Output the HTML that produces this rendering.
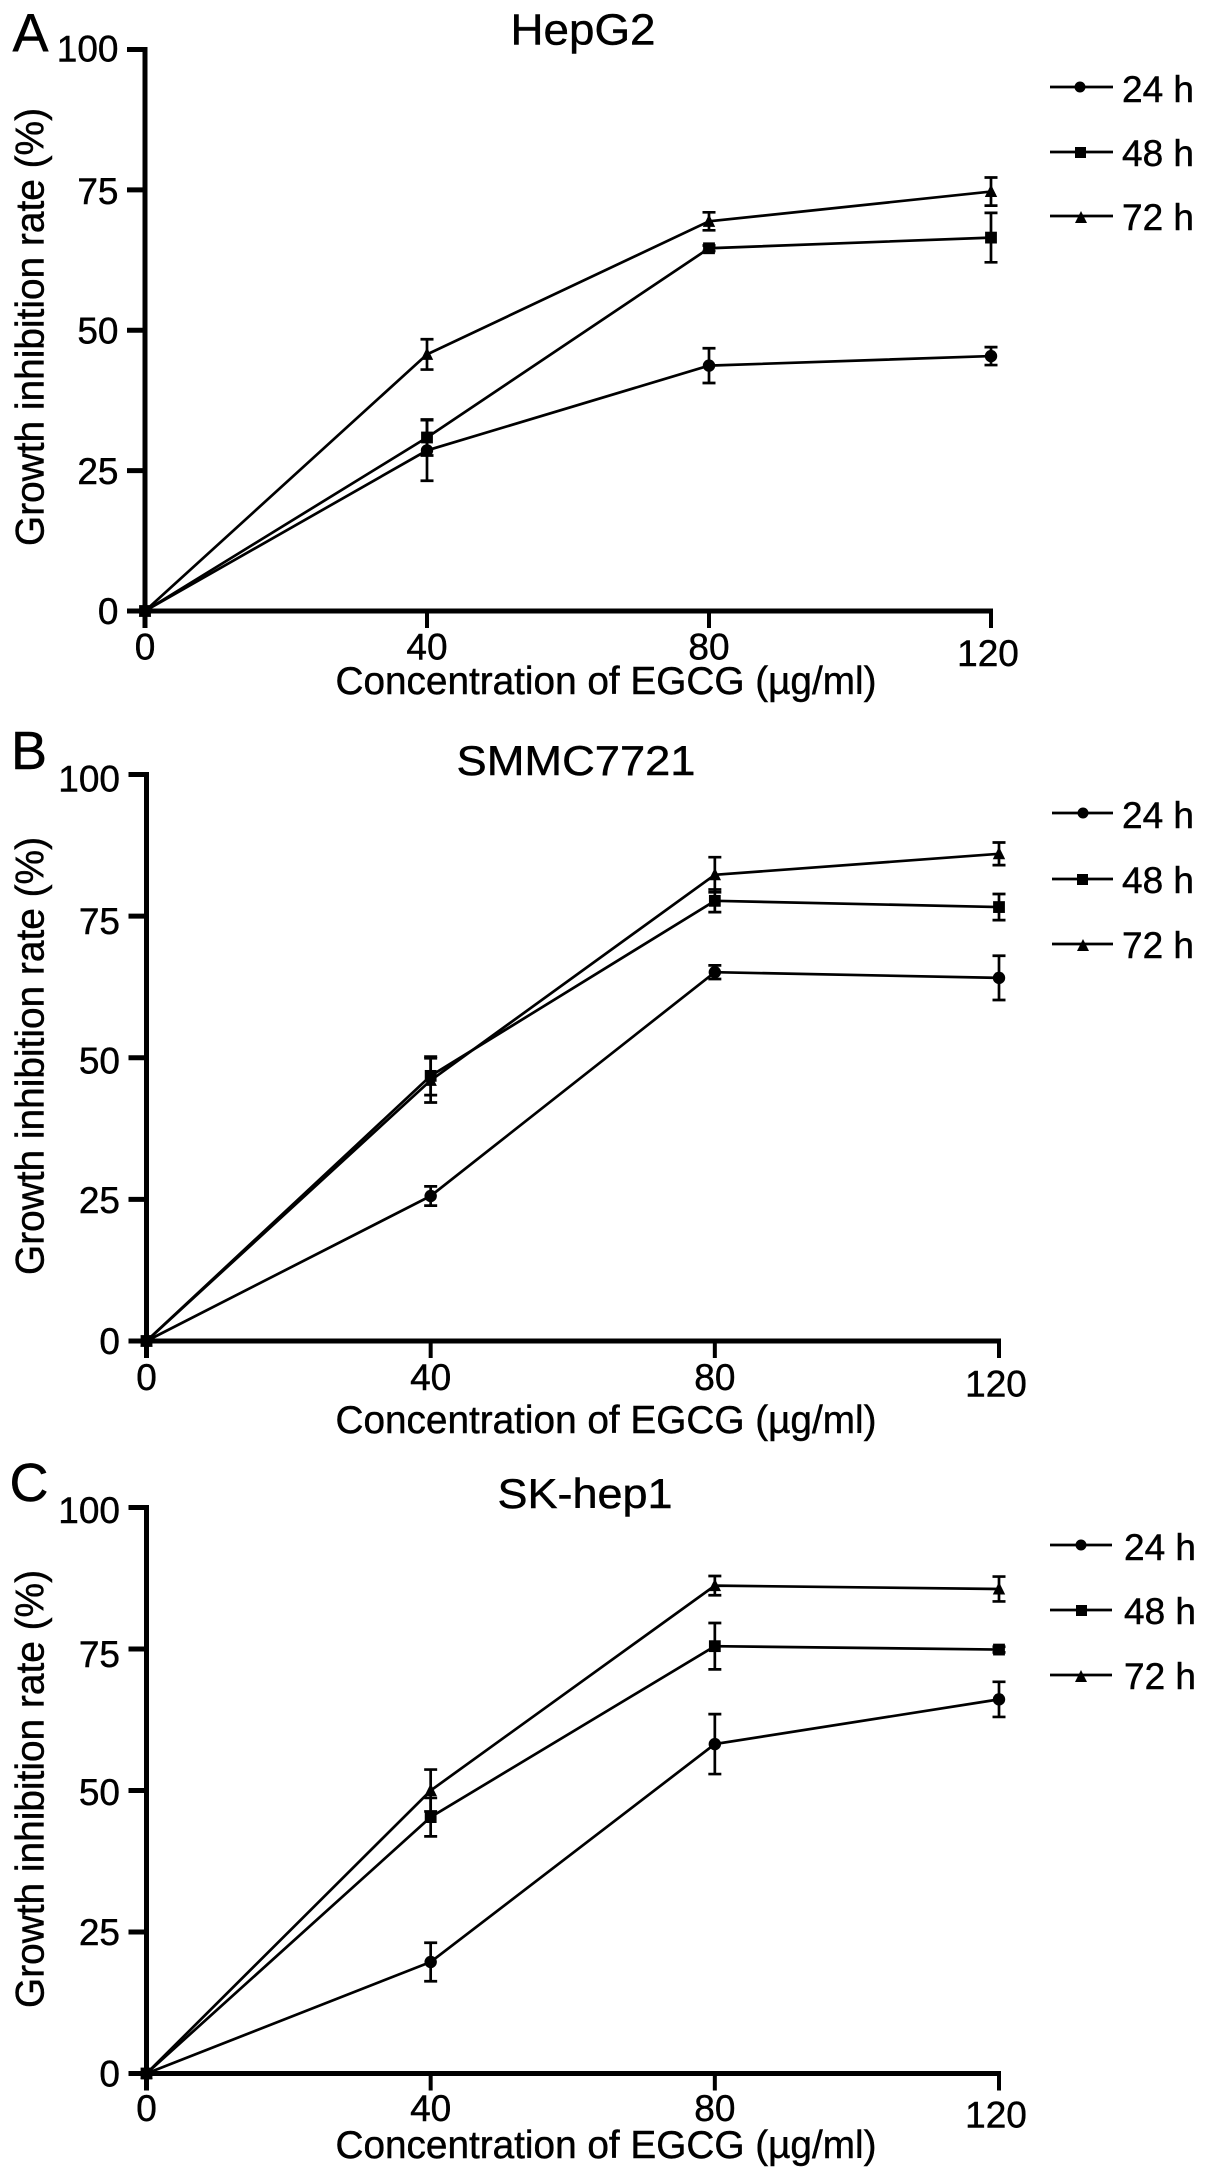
<!DOCTYPE html>
<html lang="en">
<head>
<meta charset="utf-8">
<title>Growth inhibition rate charts</title>
<style>
html,body{margin:0;padding:0;background:#fff;}
svg{display:block;}
text{font-family:"Liberation Sans",Arial,sans-serif;fill:#000;stroke:#000;stroke-width:.45px;}
</style>
</head>
<body>
<svg id="figure" xmlns="http://www.w3.org/2000/svg" width="1205" height="2179" viewBox="0 0 1205 2179">
  <rect width="1205" height="2179" fill="#fff"/>

  <g>
    <text x="12.5" y="51.5" font-size="54">A</text>
    <text x="583" y="44.5" font-size="44" text-anchor="middle" textLength="145" lengthAdjust="spacingAndGlyphs">HepG2</text>
    <text x="606" y="694" font-size="38.5" text-anchor="middle" textLength="541" lengthAdjust="spacingAndGlyphs">Concentration of EGCG (µg/ml)</text>
    <text transform="translate(43.5,327) rotate(-90)" font-size="40" text-anchor="middle" textLength="438" lengthAdjust="spacingAndGlyphs">Growth inhibition rate (%)</text>
  </g>
  <g>
    <text x="11" y="769" font-size="54">B</text>
    <text x="576" y="775" font-size="42" text-anchor="middle" textLength="239" lengthAdjust="spacingAndGlyphs">SMMC7721</text>
    <text x="606" y="1433" font-size="38.5" text-anchor="middle" textLength="541" lengthAdjust="spacingAndGlyphs">Concentration of EGCG (µg/ml)</text>
    <text transform="translate(43.5,1056) rotate(-90)" font-size="40" text-anchor="middle" textLength="438" lengthAdjust="spacingAndGlyphs">Growth inhibition rate (%)</text>
  </g>
  <g>
    <text x="9.5" y="1501" font-size="54">C</text>
    <text x="585" y="1508" font-size="42" text-anchor="middle" textLength="175" lengthAdjust="spacingAndGlyphs">SK-hep1</text>
    <text x="606" y="2158" font-size="38.5" text-anchor="middle" textLength="541" lengthAdjust="spacingAndGlyphs">Concentration of EGCG (µg/ml)</text>
    <text transform="translate(43.5,1789) rotate(-90)" font-size="40" text-anchor="middle" textLength="438" lengthAdjust="spacingAndGlyphs">Growth inhibition rate (%)</text>
  </g>

  <g stroke="#000" stroke-width="2.7">
    <g><line x1="1050" y1="87" x2="1113" y2="87"/><circle cx="1080" cy="87" r="5.5" stroke="none"/><text x="1122" y="102" font-size="37">24 h</text></g>
    <g><line x1="1050" y1="152" x2="1113" y2="152"/><rect x="1075" y="147" width="11" height="11" stroke="none"/><text x="1122" y="166" font-size="37">48 h</text></g>
    <g><line x1="1050" y1="216" x2="1113" y2="216"/><polygon points="1081,211 1075,223 1087,223" stroke="none"/><text x="1122" y="230" font-size="37">72 h</text></g>
  </g>
  <g stroke="#000" stroke-width="2.7">
    <g><line x1="1052" y1="813" x2="1113" y2="813"/><circle cx="1083" cy="813" r="5.5" stroke="none"/><text x="1122" y="828" font-size="37">24 h</text></g>
    <g><line x1="1052" y1="879" x2="1113" y2="879"/><rect x="1077" y="874" width="11" height="11" stroke="none"/><text x="1122" y="893" font-size="37">48 h</text></g>
    <g><line x1="1052" y1="944" x2="1113" y2="944"/><polygon points="1083,939 1077,951 1089,951" stroke="none"/><text x="1122" y="958" font-size="37">72 h</text></g>
  </g>
  <g stroke="#000" stroke-width="2.7">
    <g><line x1="1050" y1="1545" x2="1112" y2="1545"/><circle cx="1081" cy="1545" r="5.5" stroke="none"/><text x="1124" y="1560" font-size="37">24 h</text></g>
    <g><line x1="1050" y1="1610" x2="1112" y2="1610"/><rect x="1076" y="1605" width="11" height="11" stroke="none"/><text x="1124" y="1624" font-size="37">48 h</text></g>
    <g><line x1="1050" y1="1675" x2="1112" y2="1675"/><polygon points="1081,1670 1075,1682 1087,1682" stroke="none"/><text x="1124" y="1689" font-size="37">72 h</text></g>
  </g>
</svg>

<script>
// Shared categories and tick labels
const concentrations = [0, 40, 80, 120];
const yTickValues = [0, 25, 50, 75, 100];

// Panel A: HepG2
const hepg2Mean24 = [0, 28.6, 43.7, 45.4];
const hepg2Err24 = [0, 5.4, 3.1, 1.6];
const hepg2Mean48 = [0, 30.9, 64.6, 66.5];
const hepg2Err48 = [0, 3.2, 0.5, 4.4];
const hepg2Mean72 = [0, 45.7, 69.4, 74.7];
const hepg2Err72 = [0, 2.7, 1.6, 2.5];

// Panel B: SMMC7721
const smmcMean24 = [0, 25.6, 65.1, 64.1];
const smmcErr24 = [0, 1.7, 1.2, 3.9];
const smmcMean48 = [0, 46.8, 77.7, 76.6];
const smmcErr48 = [0, 3.4, 2.0, 2.3];
const smmcMean72 = [0, 46.0, 82.3, 86.0];
const smmcErr72 = [0, 3.9, 3.1, 2.0];

// Panel C: SK-hep1
const skhepMean24 = [0, 19.7, 58.2, 66.1];
const skhepErr24 = [0, 3.4, 5.3, 3.1];
const skhepMean48 = [0, 45.3, 75.5, 74.9];
const skhepErr48 = [0, 3.4, 4.1, 0.5];
const skhepMean72 = [0, 50.0, 86.2, 85.6];
const skhepErr72 = [0, 3.7, 1.7, 2.2];

const SVG_NS = 'http://www.w3.org/2000/svg';
const figure = document.getElementById('figure');

function make(tag, parent, props) {
  const node = document.createElementNS(SVG_NS, tag);
  for (const key in props) node.setAttribute(key, props[key]);
  parent.appendChild(node);
  return node;
}

function drawPanel(frame, seriesList) {
  const xMax = concentrations[concentrations.length - 1];
  const xScale = v => frame.left + (v / xMax) * (frame.right - frame.left);
  const yScale = v => frame.zero - (v / 100) * (frame.zero - frame.top);

  const root = make('g', figure, {});
  
  

  const axes = make('g', root, { stroke: '#000', 'stroke-width': 5 });
  
  

  const yAxis = make('line', axes, { x1: xScale(0), x2: xScale(0), y1: yScale(100) - 2.5, y2: yScale(0) });
  
  
  const xAxis = make('line', axes, { x1: xScale(0), x2: xScale(xMax) + 2, y1: yScale(0), y2: yScale(0) });
  
  

  yTickValues.forEach((v, i) => {
    const tick = make('line', axes, { x1: xScale(0) - 18, x2: xScale(0), y1: yScale(v), y2: yScale(v) });
    
    
    const label = make('text', root, { x: xScale(0) - 26.5, y: yScale(v) + frame.yLabelShift[i], 'font-size': 37, 'text-anchor': 'end' });
    
    
    label.textContent = String(v);
  });

  concentrations.forEach(v => {
    const tick = make('line', axes, { x1: xScale(v), x2: xScale(v), y1: yScale(0), y2: yScale(0) + 17, 'stroke-width': v === 0 ? 5 : 4 });
    
    
    const label = make('text', root, { x: xScale(v) - (v === xMax ? 3 : 0), y: frame.xLabelY + (v === xMax ? 6.5 : 0), 'font-size': 37, 'text-anchor': 'middle' });
    
    
    label.textContent = String(v);
  });

  seriesList.forEach(series => {
    const group = make('g', root, { stroke: '#000', 'stroke-width': 2.7, fill: 'none' });
    
    

    const points = concentrations.map((c, i) => xScale(c) + ',' + yScale(series.mean[i])).join(' ');
    const path = make('polyline', group, { points: points });
    
    

    concentrations.forEach((c, i) => {
      const cx = xScale(c);
      const cy = yScale(series.mean[i]);
      const err = series.err[i];
      if (err > 0) {
        const hi = yScale(series.mean[i] + err);
        const lo = yScale(series.mean[i] - err);
        const bar = make('path', group, { d: 'M' + cx + ' ' + hi + 'V' + lo + 'M' + (cx - 6.5) + ' ' + hi + 'H' + (cx + 6.5) + 'M' + (cx - 6.5) + ' ' + lo + 'H' + (cx + 6.5) });
        
        
      }
      let marker;
      if (series.shape === 'circle') {
        marker = make('circle', group, { cx: cx, cy: cy, r: 6.2, fill: '#000', stroke: 'none' });
      } else if (series.shape === 'square') {
        marker = make('rect', group, { x: cx - 5.9, y: cy - 5.9, width: 11.8, height: 11.8, fill: '#000', stroke: 'none' });
      } else {
        marker = make('polygon', group, { points: cx + ',' + (cy - 7) + ' ' + (cx - 6.2) + ',' + (cy + 5.5) + ' ' + (cx + 6.2) + ',' + (cy + 5.5), fill: '#000', stroke: 'none' });
      }
      
      
    });
  });
}

drawPanel({ name: 'panel-a', left: 145, right: 991, top: 49.5, zero: 611, xLabelY: 659.5, yLabelShift: [13, 13.5, 13, 14, 12] }, [
  { label: '24h', shape: 'circle', mean: hepg2Mean24, err: hepg2Err24 },
  { label: '48h', shape: 'square', mean: hepg2Mean48, err: hepg2Err48 },
  { label: '72h', shape: 'triangle', mean: hepg2Mean72, err: hepg2Err72 }
]);
drawPanel({ name: 'panel-b', left: 146.5, right: 999, top: 774.5, zero: 1341, xLabelY: 1390, yLabelShift: [13, 13.5, 15.5, 18, 17] }, [
  { label: '24h', shape: 'circle', mean: smmcMean24, err: smmcErr24 },
  { label: '48h', shape: 'square', mean: smmcMean48, err: smmcErr48 },
  { label: '72h', shape: 'triangle', mean: smmcMean72, err: smmcErr72 }
]);
drawPanel({ name: 'panel-c', left: 146.5, right: 999, top: 1507.5, zero: 2073.5, xLabelY: 2121, yLabelShift: [13, 13, 14.5, 18, 15.5] }, [
  { label: '24h', shape: 'circle', mean: skhepMean24, err: skhepErr24 },
  { label: '48h', shape: 'square', mean: skhepMean48, err: skhepErr48 },
  { label: '72h', shape: 'triangle', mean: skhepMean72, err: skhepErr72 }
]);
</script>
</body>
</html>
